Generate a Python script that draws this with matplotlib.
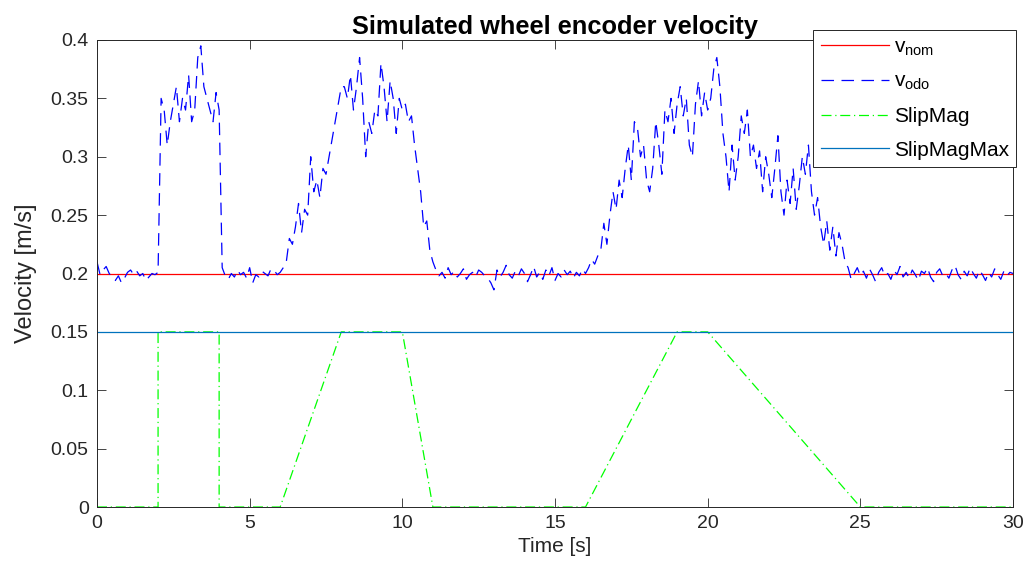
import numpy as np
import matplotlib
matplotlib.use("Agg")
import matplotlib.pyplot as plt

plt.rcParams['font.family'] = ['Liberation Sans', 'DejaVu Sans']
plt.rcParams['mathtext.fontset'] = 'custom'
plt.rcParams['mathtext.rm'] = 'Liberation Sans'
plt.rcParams['mathtext.it'] = 'Liberation Sans'

# ---- data ----
dt = 0.1
t_end = 30.0
v_nom_value = 0.2
slip_max_value = 0.15

# SlipMag breakpoints (time [s], value)
slip_t = [0, 2, 2, 4, 4, 6, 8, 10, 11, 16, 19, 20, 25, 30]
slip_v = [0, 0, 0.15, 0.15, 0, 0, 0.15, 0.15, 0, 0, 0.15, 0.15, 0, 0]

# v_odo samples (every 0.1 s)
odo_0_2 = [0.210, 0.199, 0.203, 0.206, 0.200, 0.197, 0.194, 0.198, 0.192, 0.196,
           0.201, 0.203, 0.199, 0.202, 0.198, 0.200, 0.194, 0.197, 0.200, 0.199, 0.201]
odo_2_4 = [0.350, 0.340, 0.310, 0.330, 0.345, 0.360, 0.330, 0.350, 0.340, 0.370,
           0.330, 0.340, 0.385, 0.395, 0.360, 0.350, 0.340, 0.330, 0.355, 0.340]
odo_4_6 = [0.205, 0.198, 0.195, 0.200, 0.197, 0.203, 0.199, 0.201, 0.196, 0.205,
           0.192, 0.199, 0.197, 0.202, 0.200, 0.198, 0.204, 0.203, 0.199, 0.201]
odo_6_8 = [0.205, 0.210, 0.230, 0.225, 0.240, 0.260, 0.235, 0.255, 0.250, 0.300,
           0.270, 0.280, 0.265, 0.290, 0.285, 0.300, 0.315, 0.330, 0.345, 0.360]
odo_8_10 = [0.360, 0.350, 0.370, 0.340, 0.360, 0.385, 0.350, 0.300, 0.330, 0.320,
            0.340, 0.335, 0.380, 0.360, 0.330, 0.365, 0.350, 0.320, 0.350, 0.340]
odo_10_11 = [0.345, 0.330, 0.335, 0.310, 0.290, 0.270, 0.240, 0.245, 0.220, 0.210]
odo_11_16 = [0.203, 0.198, 0.201, 0.196, 0.205, 0.199, 0.202, 0.197, 0.200, 0.204,
             0.195, 0.199, 0.201, 0.197, 0.203, 0.201, 0.198, 0.196, 0.192, 0.186,
             0.203, 0.197, 0.201, 0.207, 0.199, 0.196, 0.202, 0.198, 0.204, 0.200,
             0.193, 0.199, 0.206, 0.197, 0.201, 0.195, 0.203, 0.198, 0.205, 0.194,
             0.200, 0.197, 0.203, 0.199, 0.202, 0.196, 0.201, 0.198, 0.204, 0.200]
odo_16_19 = [0.205, 0.212, 0.208, 0.215, 0.220, 0.243, 0.225, 0.250, 0.270, 0.255,
             0.280, 0.265, 0.290, 0.310, 0.280, 0.330, 0.325, 0.300, 0.310, 0.280,
             0.270, 0.290, 0.330, 0.310, 0.285, 0.340, 0.330, 0.350, 0.320, 0.345]
odo_19_25 = [0.360, 0.335, 0.350, 0.310, 0.300, 0.345, 0.365, 0.335, 0.355, 0.340,
             0.350, 0.375, 0.385, 0.360, 0.320, 0.300, 0.270, 0.310, 0.280, 0.300,
             0.335, 0.320, 0.340, 0.300, 0.310, 0.290, 0.305, 0.270, 0.300, 0.285,
             0.265, 0.290, 0.318, 0.270, 0.250, 0.280, 0.260, 0.290, 0.255, 0.275,
             0.300, 0.285, 0.310, 0.270, 0.250, 0.265, 0.240, 0.225, 0.245, 0.220,
             0.240, 0.215, 0.235, 0.225, 0.210, 0.205, 0.195, 0.200, 0.205, 0.198]
odo_25_30 = [0.202, 0.196, 0.204, 0.199, 0.193, 0.201, 0.205, 0.198, 0.200, 0.195,
             0.203, 0.199, 0.206, 0.197, 0.201, 0.196, 0.203, 0.199, 0.194, 0.202,
             0.200, 0.205, 0.197, 0.193, 0.201, 0.204, 0.198, 0.200, 0.196, 0.203,
             0.207, 0.199, 0.195, 0.202, 0.198, 0.205, 0.200, 0.196, 0.203, 0.199,
             0.194, 0.201, 0.197, 0.204, 0.199, 0.195, 0.202, 0.198, 0.201, 0.200]

x_ticks = [0, 5, 10, 15, 20, 25, 30]
y_ticks = [0, 0.05, 0.1, 0.15, 0.2, 0.25, 0.3, 0.35, 0.4]
y_tick_labels = ['0', '0.05', '0.1', '0.15', '0.2', '0.25', '0.3', '0.35', '0.4']

v_odo = np.array(odo_0_2 + odo_2_4 + odo_4_6 + odo_6_8 + odo_8_10 + odo_10_11 +
                 odo_11_16 + odo_16_19 + odo_19_25 + odo_25_30)
t = np.arange(len(v_odo)) * dt

# ---- figure ----
fig = plt.figure(figsize=(10.27, 5.82), dpi=100)
ax = fig.add_axes([97/1027, 1-507/582, (1013-97)/1027, (507-40)/582])

ax.plot([0, t_end], [v_nom_value, v_nom_value], color=(1, 0, 0), lw=0.9, label=r'v$_{\mathrm{nom}}$')
ax.plot(t, v_odo, color=(0, 0, 1), lw=0.9, dashes=(10, 6), label=r'v$_{\mathrm{odo}}$')
ax.plot(slip_t, slip_v, color=(0, 1, 0), lw=0.9, dashes=(8, 3, 1, 3), label='SlipMag')
ax.plot([0, t_end], [slip_max_value, slip_max_value], color=(0, 0.447, 0.741), lw=0.9, label='SlipMagMax')

ax.set_xlim(0, 30)
ax.set_ylim(0, 0.4)
ax.set_xticks(x_ticks)
ax.set_yticks(y_ticks)
ax.set_yticklabels(y_tick_labels)
dark = (0.15, 0.15, 0.15)
ax.tick_params(direction='in', length=6.5, width=0.6, colors=dark, labelsize=14,
               top=True, right=True, pad=6)
for s in ax.spines.values():
    s.set_color(dark)
    s.set_linewidth(0.7)
ax.set_xlabel('Time [s]', fontsize=15, color=dark, labelpad=3)
ax.set_ylabel('Velocity [m/s]', fontsize=17, color=dark, labelpad=10)
ax.set_title('Simulated wheel encoder velocity', fontsize=18.3, fontweight='bold', pad=4)

leg = fig.legend(loc='upper right', bbox_to_anchor=(1016/1027, 1-30/582), fontsize=15,
                 frameon=True, fancybox=False, framealpha=1, edgecolor=dark,
                 handlelength=3.3, handletextpad=0.2, borderpad=0.35, labelspacing=0.7,
                 borderaxespad=0)
leg.get_frame().set_linewidth(0.7)

fig.savefig('out.png', dpi=100)
